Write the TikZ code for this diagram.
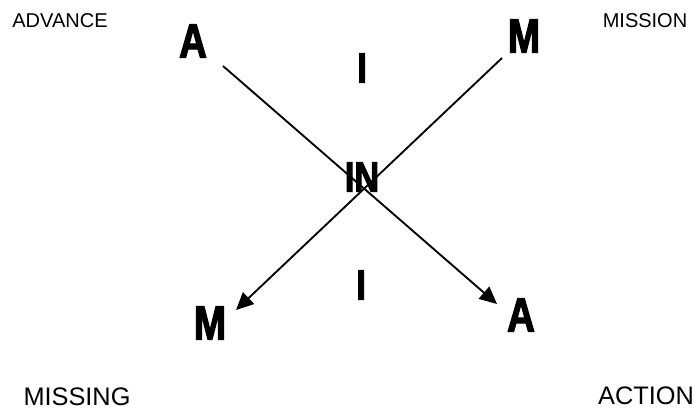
\documentclass[tikz,border=0pt]{standalone}
\usepackage{fontspec}
\setmainfont{Liberation Sans}
\newfontfamily\bigfont[FakeStretch=0.8,FakeBold=2.5]{Liberation Sans Bold}
\usetikzlibrary{arrows.meta}

\begin{document}
\begin{tikzpicture}[x=0.75pt,y=-0.75pt,
  big/.style={inner sep=0pt,font=\bigfont\fontsize{36}{36}\selectfont},
  mid/.style={inner sep=0pt,font=\bigfont\fontsize{32}{32}\selectfont},
  word/.style={inner sep=0pt,font=\fontsize{15}{15}\selectfont},
  bigword/.style={inner sep=0pt,font=\fontsize{19}{19}\selectfont},
  link/.style={line width=1.4pt},
  tip/.style={-{Triangle[length=13pt,width=12pt]}}]
  \useasboundingbox (0,0) rectangle (695,411);
  % corner words
  \node[word] (adv) at (60,21) {ADVANCE};
  \node[word] (mis) at (645,21) {MISSION};
  \node[bigword] (mig) at (77,397) {MISSING};
  \node[bigword] (act) at (646,396) {ACTION};
  % big letters
  \node[big] (ta) at (193,41) {A};
  \node[big] (tm) at (524,36) {M};
  \node[mid] (ti) at (362,68) {I};
  \node[mid] (in) at (362,177) {IN};
  \node[mid] (bi) at (361,285) {I};
  \node[big] (bm) at (210,323) {M};
  \node[big] (ba) at (521,315) {A};
  % line ends
  \coordinate (s1) at (223,66);
  \coordinate (e1) at (497,304);
  \coordinate (s2) at (502,58);
  \coordinate (e2) at (236,310);
  \draw[link,tip] (s1)--(e1);
  \draw[link,tip] (s2)--(e2);
\end{tikzpicture}
\end{document}
